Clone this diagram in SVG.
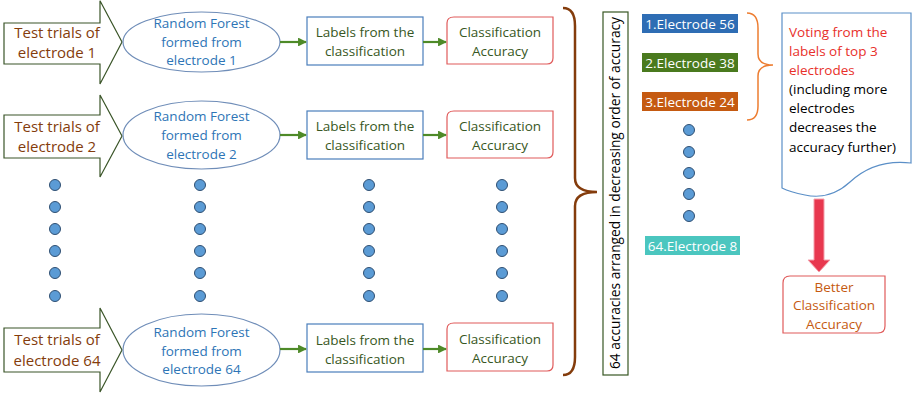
<svg xmlns="http://www.w3.org/2000/svg" width="916" height="395" viewBox="0 0 916 395">
  <style>
    text { font-family: "Open Sans", "Liberation Sans", sans-serif; font-size: 13.5px; text-anchor: middle; }
    .trial { fill: #843C0C; font-size: 15px; }
    .rf { fill: #2E75B6; }
    .lab { fill: #385723; }
    .acc { fill: #385723; }
    .blk { fill: none; stroke: #3A5528; stroke-width: 1.2; }
    .ell { fill: #ffffff; stroke: #6F8DB8; stroke-width: 1.2; }
    .lbox { fill: #ffffff; stroke: #4A7EBB; stroke-width: 1.2; }
    .abox { fill: #ffffff; stroke: #E05A5A; stroke-width: 1.2; }
    .conn { stroke: #4E8A28; stroke-width: 2.2; fill: none; marker-end: url(#ah); }
    .dot { fill: #5B9BD5; stroke: #2F4F72; stroke-width: 1; }
    .etxt { fill: #ffffff; font-size: 13.5px; }
  </style>
  <defs>
    <marker id="ah" viewBox="0 0 10 10" refX="9" refY="5" markerWidth="4" markerHeight="4" orient="auto" markerUnits="strokeWidth">
      <path d="M0,0 L10,5 L0,10 Z" fill="#4E8A28"/>
    </marker>
  </defs>

  <!-- row 1 -->
  <g id="trial1">
    <polygon class="blk" points="4,23 100,23 100,0.8 122,42 100,84 100,64 4,64"/>
    <text class="trial" x="57" y="38">Test trials of</text>
    <text class="trial" x="57" y="58">electrode 1</text>
  </g>
  <g id="rf1">
    <ellipse class="ell" cx="201.5" cy="42" rx="78.5" ry="30"/>
    <text class="rf" x="201.5" y="28">Random Forest</text>
    <text class="rf" x="201.5" y="47">formed from</text>
    <text class="rf" x="201.5" y="65">electrode 1</text>
  </g>
  <g id="labels1">
    <rect class="lbox" x="307" y="17" width="116" height="48"/>
    <text class="lab" x="365" y="37">Labels from the</text>
    <text class="lab" x="365" y="56">classification</text>
  </g>
  <g id="acc1">
    <path class="abox" d="M454,17 H553 V58 Q553,64 547,64 H447 V23 Q447,17 454,17 Z"/>
    <text class="acc" x="500" y="37">Classification</text>
    <text class="acc" x="500" y="56">Accuracy</text>
  </g>

  <!-- row 2 -->
  <g id="trial2">
    <polygon class="blk" points="4,115 100,115 100,95 122,136 100,177 100,158 4,158"/>
    <text class="trial" x="57" y="132">Test trials of</text>
    <text class="trial" x="57" y="152">electrode 2</text>
  </g>
  <g id="rf2">
    <ellipse class="ell" cx="201.5" cy="135" rx="78.5" ry="34"/>
    <text class="rf" x="201.5" y="121">Random Forest</text>
    <text class="rf" x="201.5" y="140">formed from</text>
    <text class="rf" x="201.5" y="159">electrode 2</text>
  </g>
  <g id="labels2">
    <rect class="lbox" x="307" y="111" width="116" height="48"/>
    <text class="lab" x="365" y="131">Labels from the</text>
    <text class="lab" x="365" y="150">classification</text>
  </g>
  <g id="acc2">
    <path class="abox" d="M454,111 H553 V152 Q553,158 547,158 H447 V117 Q447,111 454,111 Z"/>
    <text class="acc" x="500" y="131">Classification</text>
    <text class="acc" x="500" y="150">Accuracy</text>
  </g>

  <!-- row 64 -->
  <g id="trial64">
    <polygon class="blk" points="4,328 100,328 100,308 122,350 100,392 100,372 4,372"/>
    <text class="trial" x="57" y="345">Test trials of</text>
    <text class="trial" x="57" y="366">electrode 64</text>
  </g>
  <g id="rf64">
    <ellipse class="ell" cx="201.5" cy="350" rx="78.5" ry="36"/>
    <text class="rf" x="201.5" y="337">Random Forest</text>
    <text class="rf" x="201.5" y="356">formed from</text>
    <text class="rf" x="201.5" y="374">electrode 64</text>
  </g>
  <g id="labels64">
    <rect class="lbox" x="307" y="324" width="116" height="48"/>
    <text class="lab" x="365" y="345">Labels from the</text>
    <text class="lab" x="365" y="364">classification</text>
  </g>
  <g id="acc64">
    <path class="abox" d="M454,323 H553 V365 Q553,371 547,371 H447 V329 Q447,323 454,323 Z"/>
    <text class="acc" x="500" y="344">Classification</text>
    <text class="acc" x="500" y="363">Accuracy</text>
  </g>

  <!-- ellipsis dots between rows -->
  <g id="dots">
    <g class="dot">
      <circle cx="55" cy="185" r="5.5"/><circle cx="55" cy="207" r="5.5"/><circle cx="55" cy="229" r="5.5"/><circle cx="55" cy="251" r="5.5"/><circle cx="55" cy="273" r="5.5"/><circle cx="55" cy="296" r="5.5"/>
      <circle cx="200" cy="185" r="5.5"/><circle cx="200" cy="207" r="5.5"/><circle cx="200" cy="229" r="5.5"/><circle cx="200" cy="251" r="5.5"/><circle cx="200" cy="273" r="5.5"/><circle cx="200" cy="296" r="5.5"/>
      <circle cx="369" cy="185" r="5.5"/><circle cx="369" cy="207" r="5.5"/><circle cx="369" cy="229" r="5.5"/><circle cx="369" cy="251" r="5.5"/><circle cx="369" cy="273" r="5.5"/><circle cx="369" cy="296" r="5.5"/>
      <circle cx="502" cy="185" r="5.5"/><circle cx="502" cy="207" r="5.5"/><circle cx="502" cy="229" r="5.5"/><circle cx="502" cy="251" r="5.5"/><circle cx="502" cy="273" r="5.5"/><circle cx="502" cy="296" r="5.5"/>
      <circle cx="689" cy="130" r="5.5"/><circle cx="689" cy="152" r="5.5"/><circle cx="689" cy="173" r="5.5"/><circle cx="689" cy="194" r="5.5"/><circle cx="689" cy="216" r="5.5"/>
    </g>
  </g>

  <!-- sorted accuracies -->
  <g id="sorted">
    <rect x="603" y="12" width="25" height="363" fill="#ffffff" stroke="#385723" stroke-width="1.2"/>
    <text x="0" y="0" transform="translate(620,193) rotate(-90)" fill="#000000" style="font-size:14px" textLength="352" lengthAdjust="spacingAndGlyphs">64 accuracies arranged in decreasing order of accuracy</text>
  </g>
  <g id="e56">
    <rect x="642" y="14" width="96" height="19" fill="#2E6DB4"/>
    <text class="etxt" x="690" y="28.5">1.Electrode 56</text>
  </g>
  <g id="e38">
    <rect x="642" y="53" width="96" height="19" fill="#4A7A1E"/>
    <text class="etxt" x="690" y="67.5">2.Electrode 38</text>
  </g>
  <g id="e24">
    <rect x="642" y="92" width="96" height="19" fill="#C55A11"/>
    <text class="etxt" x="690" y="106.5">3.Electrode 24</text>
  </g>
  <g id="e8">
    <rect x="645" y="236" width="95" height="19" fill="#4BC6BF"/>
    <text class="etxt" x="692.5" y="250.5">64.Electrode 8</text>
  </g>

  <!-- voting note -->
  <g id="voting">
    <path d="M782,13 H911 V163 C885,160 865,168 850,182 C838,193 822,199 805,195 C795,193 788,191 782,188 Z" fill="#ffffff" stroke="#5B8FC7" stroke-width="1.2"/>
    <g style="text-anchor:start">
      <text x="789" y="37" fill="#E8302A" style="text-anchor:start">Voting from the</text>
      <text x="789" y="56" fill="#E8302A" style="text-anchor:start">labels of top 3</text>
      <text x="789" y="75" fill="#E8302A" style="text-anchor:start">electrodes</text>
      <text x="789" y="94" fill="#000000" style="text-anchor:start">(including more</text>
      <text x="789" y="113" fill="#000000" style="text-anchor:start">electrodes</text>
      <text x="789" y="132" fill="#000000" style="text-anchor:start">decreases the</text>
      <text x="789" y="152" fill="#000000" style="text-anchor:start">accuracy further)</text>
    </g>
  </g>
  <g id="better">
    <path d="M790,276 H885 V326 Q885,333 878,333 H783 V283 Q783,276 790,276 Z" fill="#ffffff" stroke="#E05A5A" stroke-width="1.2"/>
    <text x="834" y="292" fill="#C55A11">Better</text>
    <text x="834" y="310" fill="#C55A11">Classification</text>
    <text x="834" y="329" fill="#C55A11">Accuracy</text>
  </g>

  <!-- connectors -->
  <g id="connectors">
    <line class="conn" x1="280" y1="42" x2="306" y2="42"/>
    <line class="conn" x1="423" y1="42" x2="446" y2="42"/>
    <line class="conn" x1="280" y1="135" x2="306" y2="135"/>
    <line class="conn" x1="423" y1="135" x2="446" y2="135"/>
    <line class="conn" x1="280" y1="349" x2="306" y2="349"/>
    <line class="conn" x1="423" y1="349" x2="446" y2="349"/>
    <path d="M563,8 Q575,8 575,26 L575,178 Q575,192 597,192 Q575,192 575,206 L575,357 Q575,375 563,375" fill="none" stroke="#843C0C" stroke-width="2.5"/>
    <path d="M747,13 Q758,13 758,28 L758,54 Q758,65 773,65 Q758,65 758,76 L758,106 Q758,120 747,120" fill="none" stroke="#ED7D31" stroke-width="1.5"/>
    <polygon points="814,199 824,199 824,260 830,260 819,272 808,260 814,260" fill="#E8384F" stroke="#F4A0AC" stroke-width="1"/>
  </g>
</svg>
